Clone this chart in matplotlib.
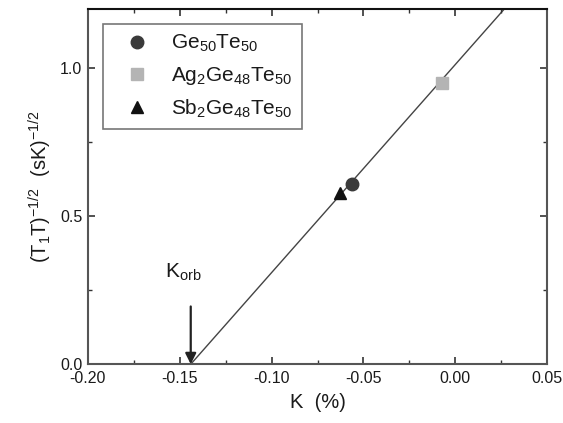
import matplotlib.pyplot as plt
from matplotlib.ticker import MultipleLocator

plt.rcParams['font.family'] = ['Liberation Sans', 'DejaVu Sans']
plt.rcParams['mathtext.fontset'] = 'custom'
plt.rcParams['mathtext.rm'] = 'Liberation Sans'
plt.rcParams['mathtext.it'] = 'Liberation Sans:italic'

# data
labels = [r'Ge$_\mathregular{50}$Te$_\mathregular{50}$',
          r'Ag$_\mathregular{2}$Ge$_\mathregular{48}$Te$_\mathregular{50}$',
          r'Sb$_\mathregular{2}$Ge$_\mathregular{48}$Te$_\mathregular{50}$']
k_vals = [-0.056, -0.007, -0.063]
y_vals = [0.61, 0.95, 0.578]
markers = ['o', 's', '^']
colors = ['#3a3a3a', '#b4b4b4', '#111111']

# linear fit
k_orb = -0.144
slope = 7.03
fit_k = [k_orb, 0.05]

fig = plt.figure(figsize=(5.63, 4.23), dpi=100)
ax = fig.add_axes([0.156, 0.139, 0.816, 0.840])

ax.plot(fit_k, [slope * (k - k_orb) for k in fit_k], '-', color='#444444', lw=1.0, zorder=1)
for k, y, m, c, lab in zip(k_vals, y_vals, markers, colors, labels):
    ax.plot(k, y, m, color=c, ms=9, label=lab, zorder=3)

ax.set_xlim(-0.20, 0.05)
ax.set_ylim(0, 1.2)
ax.xaxis.set_major_locator(MultipleLocator(0.05))
ax.xaxis.set_minor_locator(MultipleLocator(0.025))
ax.yaxis.set_major_locator(MultipleLocator(0.5))
ax.yaxis.set_minor_locator(MultipleLocator(0.25))
ax.set_xticklabels([f'{v:.2f}' for v in ax.get_xticks()])
ax.set_yticklabels([f'{v:.1f}' for v in ax.get_yticks()])
ax.tick_params(which='both', direction='in', top=True, right=True, color='#333333',
               labelsize=11.5, labelcolor='#1a1a1a')
ax.tick_params(axis='x', which='major', pad=5)
ax.tick_params(axis='y', which='major', pad=4)
ax.tick_params(which='major', length=5, width=1.2)
ax.tick_params(which='minor', length=3, width=1.0)
for s in ax.spines.values():
    s.set_color('#555555')
    s.set_linewidth(1.5)
ax.spines['top'].set_color('#111111')

ax.set_xlabel('K  (%)', fontsize=14.5, color='#1a1a1a', labelpad=5)
ax.set_ylabel(r'(T$_\mathregular{1}$T)$^\mathregular{-1/2}$  (sK)$^\mathregular{-1/2}$',
              fontsize=14.5, color='#1a1a1a', labelpad=4)

ax.annotate('', xy=(k_orb, 0.0), xytext=(k_orb, 0.195),
            arrowprops=dict(arrowstyle='-|>', color='#222222', lw=1.6,
                            mutation_scale=16, shrinkA=0, shrinkB=0))
ax.text(k_orb - 0.004, 0.31, r'K$_\mathregular{orb}$', fontsize=15, ha='center', va='center',
        color='#1a1a1a')

leg = ax.legend(loc='upper left', bbox_to_anchor=(0.033, 0.958), borderaxespad=0,
                fontsize=15, frameon=True, fancybox=False, edgecolor='#555555',
                handletextpad=0.4, labelspacing=0.5, borderpad=0.45, handlelength=2.4)
leg.get_frame().set_linewidth(1.2)
for t in leg.get_texts():
    t.set_color('#1a1a1a')

plt.savefig('out.png', dpi=100)
